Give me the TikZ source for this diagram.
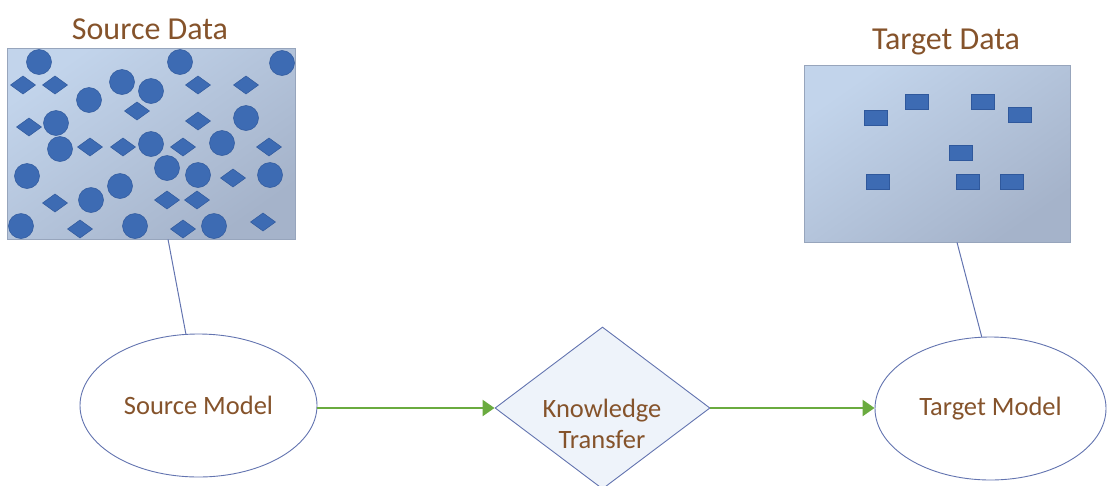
\documentclass[tikz,border=0pt]{standalone}
\usepackage{fontspec}
\setmainfont{Carlito}
\usetikzlibrary{shapes.geometric,calc,arrows.meta}

\definecolor{boxTop}{HTML}{C2D4EB}
\definecolor{boxBot}{HTML}{A5B3CA}
\definecolor{boxEdge}{HTML}{97A5BC}
\definecolor{dotFill}{HTML}{3D6BB3}
\definecolor{dotEdge}{HTML}{2F589C}
\definecolor{shapeEdge}{HTML}{6374B0}
\definecolor{diamondFill}{HTML}{EEF3FA}
\definecolor{labelBrown}{HTML}{85532B}
\definecolor{flowGreen}{HTML}{6AAB3F}

\tikzset{
  databox/.style={draw=boxEdge, line width=0.8pt, top color=boxTop,
    bottom color=boxBot, shading angle=35, inner sep=0pt},
  titletext/.style={text=labelBrown, font=\fontsize{32}{36}\selectfont, inner sep=0pt},
  bodytext/.style={text=labelBrown, font=\fontsize{26.5}{31}\selectfont, inner sep=0pt, align=center},
  model/.style={ellipse, draw=shapeEdge, line width=0.9pt, fill=white, inner sep=0pt,
    text=labelBrown, font=\fontsize{26.5}{31}\selectfont},
  decision/.style={diamond, draw=shapeEdge, line width=0.9pt, fill=diamondFill,
    inner sep=0pt, minimum width=215pt, minimum height=162pt},
  link/.style={draw=shapeEdge, line width=1pt},
  flow/.style={draw=flowGreen, line width=2.4pt,
    -{Triangle[length=12pt, width=16pt]}},
  dot/.style={fill=dotFill, draw=dotEdge, line width=0.5pt},
  chip/.style={fill=dotFill, draw=dotEdge, line width=0.5pt}
}

\begin{document}
\begin{tikzpicture}[x=1pt, y=-1pt]
  \useasboundingbox (0,0) rectangle (1107,485);
  \clip (0,0) rectangle (1107,485);

  % source data panel
  \node[databox, minimum width=288pt, minimum height=191pt] (srcbox) at (151,143.5) {};
  \node[titletext] (srctitle) at (150,29) {Source Data};
  \foreach \x/\y in {39/62, 180/62, 282/63, 122/82, 151/91, 89/100, 56/123,
      246/118, 60/149, 151/144, 222/143, 27/176, 167/168, 198/175, 270/175,
      120/186, 91/200, 21/226, 135/226, 214/226}
    \path[dot] (\x,\y) circle (12.5);
  \foreach \x/\y in {23/85, 55/85, 198/85, 246/85, 137/111, 29/127, 198/121,
      90/147, 123/147, 183/147, 269/147, 233/178, 55/203, 167/200, 197/200,
      80/229, 183/229, 263/222}
    \path[dot, shift={(\x,\y)}] (-12.5,0) -- (0,-9) -- (12.5,0) -- (0,9) -- cycle;

  % target data panel
  \node[databox, minimum width=266pt, minimum height=177pt] (tgtbox) at (937,153.5) {};
  \node[titletext] (tgttitle) at (946,42) {Target Data};
  \foreach \x/\y in {876/118, 917/102, 983/102, 1020/115, 961/153, 878/182,
      968/182, 1012/182}
    \path[chip, shift={(\x,\y)}] (-11.5,-7.5) rectangle (11.5,7.5);

  % models and transfer step
  \node[model, minimum width=237pt, minimum height=143pt] (srcmodel) at (198.5,405.5) {Source Model};
  \node[model, minimum width=231pt, minimum height=143pt] (tgtmodel) at (990.5,408.5) {Target Model};
  \node[decision] (kt) at (602.5,408) {};
  \node[bodytext] (kttext) at (602,424) {Knowledge\\Transfer};

  % connectors
  \draw[link] ($(srcbox.south west)!0.559!(srcbox.south east)$) -- (srcmodel.100);
  \draw[link] ($(tgtbox.south west)!0.575!(tgtbox.south east)$) -- (tgtmodel.97);
  \draw[flow] (srcmodel.east |- kt.west) -- (kt.west);
  \draw[flow] (kt.east) -- (tgtmodel.west |- kt.east);
\end{tikzpicture}
\end{document}
